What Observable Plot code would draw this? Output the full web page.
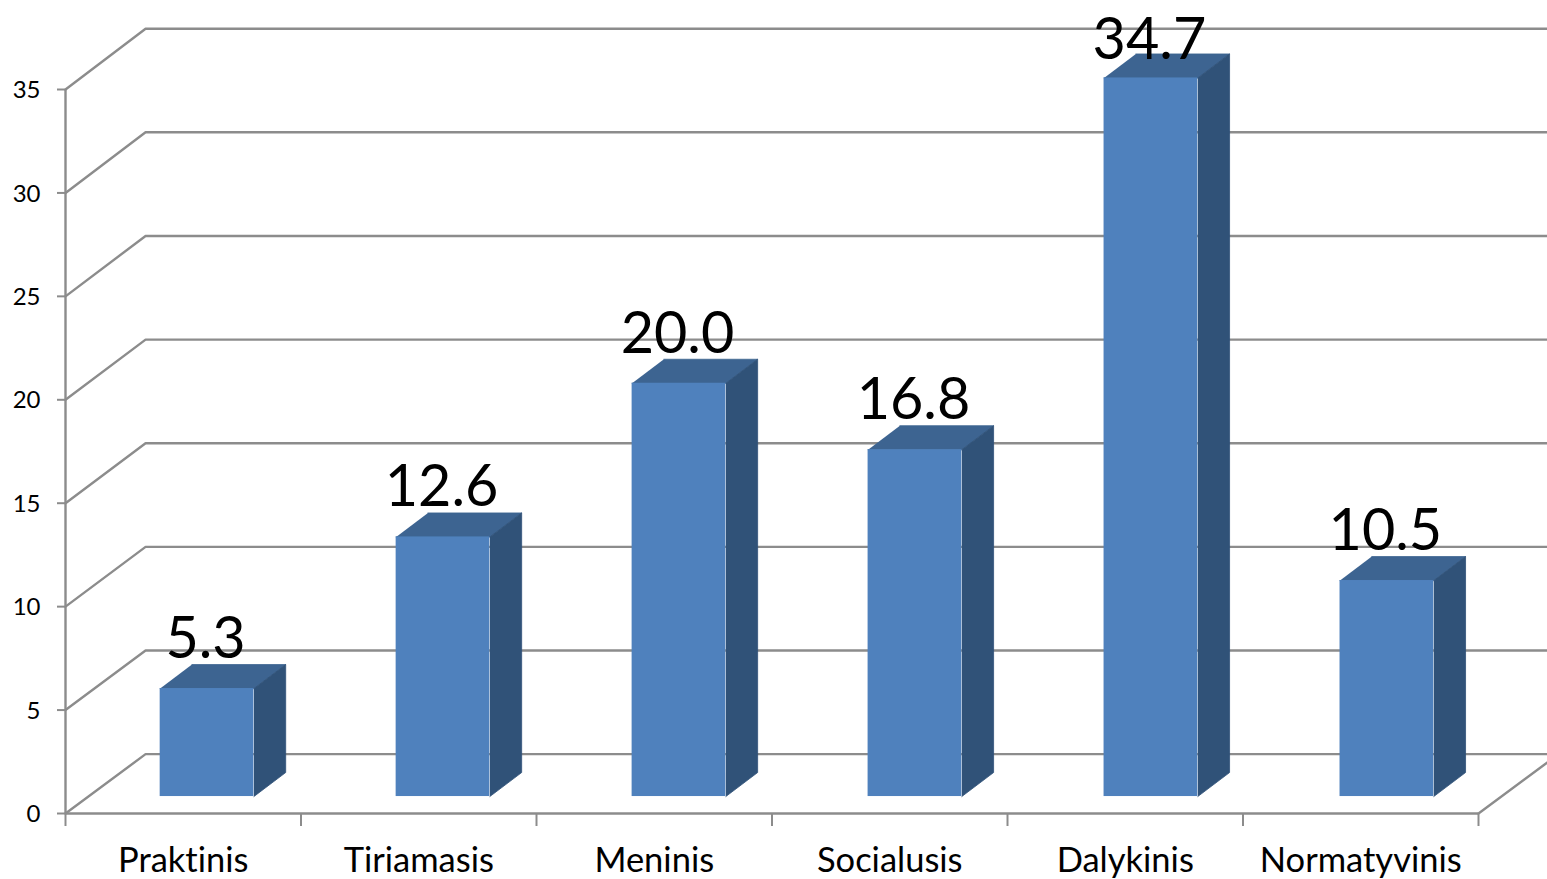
<!DOCTYPE html>
<html><head><meta charset="utf-8">
<script src="https://cdn.jsdelivr.net/npm/d3@7"></script>
<script src="https://cdn.jsdelivr.net/npm/@observablehq/plot@0.6"></script>
<style>html,body{margin:0;padding:0;background:#fff;overflow:hidden}svg{display:block}</style>
</head><body><div id="c"></div>
<script>
const categories = ["Praktinis","Tiriamasis","Meninis","Socialusis","Dalykinis","Normatyvinis"];
const values = [5.3,12.6,20.0,16.8,34.7,10.5];
const yTicks = [0,5,10,15,20,25,30,35];

// Depth of the 3-D box, in scale units (category widths, value units)
const wallX = 0.34, wallY = 2.87, wallScale = 1.002, barScale = 1.004;
const barStart = 0.402, barStep = 1.002, barWidth = 0.398, barBaseY = 0.82, barOffsetY = 0.72, barDepthX = 0.135, barDepthY = 1.16;
const xEnd = 6.57, labelCap = 35;

const barTop = v => v * barScale + barOffsetY;
const barLeft = i => i * barStep + barStart;

const walls = [];
yTicks.forEach(v => {
  walls.push({k:"a"+v, x:0, y:v});
  walls.push({k:"a"+v, x:wallX, y:v*wallScale+wallY});
  walls.push({k:"a"+v, x:xEnd, y:v*wallScale+wallY});
});
const floorEdge = [{x:6,y:0},{x:6+wallX,y:wallY}];

const faces = values.flatMap((v,i) => {
  const x0=barLeft(i), x1=x0+barWidth, b=barBaseY, t=barTop(v), dx=barDepthX, dy=barDepthY;
  return [
    {f:"top"+i, x:x0,y:t},{f:"top"+i, x:x1,y:t},{f:"top"+i, x:x1+dx,y:t+dy},{f:"top"+i, x:x0+dx,y:t+dy},
    {f:"side"+i, x:x1,y:t},{f:"side"+i, x:x1+dx,y:t+dy},{f:"side"+i, x:x1+dx,y:b+dy},{f:"side"+i, x:x1,y:b}
  ];
});
const bars = values.map((v,i)=>({i,v,name:categories[i]}));
const grey = "#8c8c8c";

const chart = Plot.plot({
  width:1547,height:879,
  marginLeft:65,marginRight:69,marginTop:89,marginBottom:66,
  style:{fontFamily:"Lato, sans-serif",background:"#fff",overflow:"hidden",fontVariantLigatures:"none"},
  x:{type:"linear",domain:[0,6],axis:null},
  y:{type:"linear",domain:[0,35],axis:null},
  marks:[
    Plot.line(walls,{x:"x",y:"y",z:"k",stroke:grey,strokeWidth:2.4}),
    Plot.line(floorEdge,{x:"x",y:"y",stroke:grey,strokeWidth:2.4}),
    Plot.ruleX([0],{y1:0,y2:35,stroke:grey,strokeWidth:2.4}),
    Plot.ruleY([0],{stroke:grey,strokeWidth:2.4}),
    Plot.axisY({ticks:yTicks,tickSize:8,tickFormat:()=>"",stroke:grey,strokeWidth:2,strokeOpacity:1,label:null,anchor:"left"}),
    Plot.axisY({ticks:yTicks,tickSize:0,tickPadding:25,dy:1,fontSize:24,fill:"#000",label:null,anchor:"left"}),
    Plot.axisX({ticks:[0,1,2,3,4,5,6],tickSize:13,tickFormat:()=>"",stroke:grey,strokeWidth:2,strokeOpacity:1,label:null,anchor:"bottom"}),
    Plot.text(bars,{x:d=>d.i+0.5,y:0,text:"name",dy:47.5,fontSize:34.5,fill:"#000"}),
    Plot.line(faces.filter(d=>d.f.startsWith("top")),{x:"x",y:"y",z:"f",fill:"#3d6491",stroke:"#3d6491",strokeWidth:0.8}),
    Plot.line(faces.filter(d=>d.f.startsWith("side")),{x:"x",y:"y",z:"f",fill:"#305278",stroke:"#305278",strokeWidth:0.8}),
    Plot.rect(bars,{x1:d=>barLeft(d.i),x2:d=>barLeft(d.i)+barWidth,y1:barBaseY,y2:d=>barTop(d.v),fill:"#4f81bd"}),
    Plot.text(bars,{x:d=>barLeft(d.i)+barWidth/2,y:d=>Math.min(barTop(d.v),labelCap),text:d=>d.v.toFixed(1),dx:-1.5,dy:-49,fontSize:57.5,fill:"#000"})
  ]
});
document.getElementById("c").append(chart);
</script></body></html>
